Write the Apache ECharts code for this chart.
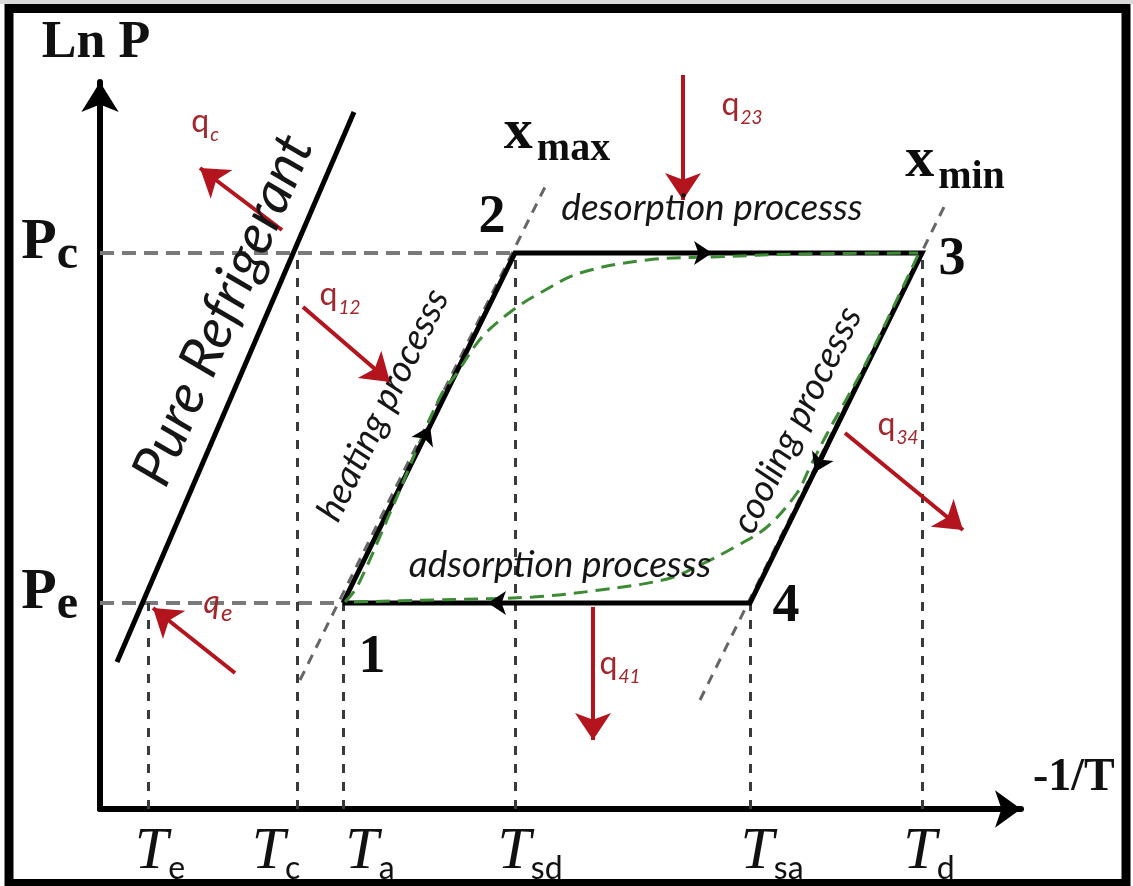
<!DOCTYPE html>
<html><head><meta charset="utf-8">
<script src="https://cdn.jsdelivr.net/npm/echarts@6/dist/echarts.min.js"></script>
<style>html,body{margin:0;padding:0;background:#fff}#chart{width:1133px;height:886px}</style>
</head><body><div id="chart"></div>
<script>
// ---- axis ticks (-1/T axis and Ln P axis, schematic units) ----
const tempNames  = ['e', 'c', 'a', 'sd', 'sa', 'd'];
const tempValues = [48, 197, 243, 415, 650, 822];
const tempGuideTo = ['e', 'c', 'e', 'c', 'e', 'c'];   // pressure level each vertical guide reaches
const presNames  = ['e', 'c'];
const presValues = [206, 556];

// ---- cycle states 1..4 : (temperature name, pressure name) ----
const stateNames = ['1', '2', '3', '4'];
const stateTemp  = ['a', 'sd', 'd', 'sa'];
const statePres  = ['e', 'c', 'c', 'e'];
const stateLabelX = [272, 392, 852, 686];
const stateLabelY = [151, 591, 549, 202];

// ---- pure refrigerant line ----
const refrigX = [17, 254];
const refrigY = [147, 697];

// ---- isosteres (x_max through 1-2, x_min through 4-3) ----
const isoMaxX = [200, 447];
const isoMaxY = [129, 626];
const isoMinX = [600, 845];
const isoMinY = [109, 604];

// ---- green (real) cycle curves ----
const greenUpX = [245, 257, 290, 340, 357, 382, 413, 440, 480, 547, 613, 700, 818];
const greenUpY = [207, 222, 296, 412, 436, 472, 499, 516, 536, 549, 552, 555, 556];
const greenLowX = [818, 765, 728, 710, 697, 667, 633, 600, 567, 500, 433, 333, 250];
const greenLowY = [554, 444, 377, 342, 316, 282, 261, 244, 230, 219, 212, 209, 207];

// ---- flow direction arrows on the cycle ----
const flowTailX = [317, 582, 728, 418];
const flowTailY = [356, 556, 364, 206];
const flowTipX  = [330, 612, 715, 388];
const flowTipY  = [383, 556, 337, 206];

// ---- heat flows ----
const heatNames = ['c', '12', '23', '34', '41', 'e'];
const heatFromX = [182, 203, 583, 745, 493, 135];
const heatFromY = [579, 502, 734, 376, 202, 136];
const heatToX   = [100, 290, 583, 863, 493, 53];
const heatToY   = [641, 427, 609, 279, 69, 201];
const heatLabelX = [105, 240, 642, 798, 520, 118];
const heatLabelY = [684, 511, 701, 381, 142, 203];

// ---- process labels ----
const procNames  = ['Pure Refrigerant', 'heating processs', 'desorption processs', 'cooling processs', 'adsorption processs'];
const procX      = [123, 283, 612, 697, 460];
const procY      = [499, 404, 601, 389, 244];
const procAngle  = [66.7, 63.8, 0, 63.6, 0];
const procSize   = [56, 37, 37, 37, 37];

// ---- isostere labels ----
const isoLabelNames = ['max', 'min'];
const isoLabelX = [457, 855];
const isoLabelY = [672, 644];

// horizontal nudges of the temperature tick labels (as placed in the figure)
const tempLabelShift = [12, -21, 27, 15, 22, 7];

// derived lookups
const T = {}; tempNames.forEach((n, i) => T[n] = tempValues[i]);
const P = {}; presNames.forEach((n, i) => P[n] = presValues[i]);
const stateX = stateTemp.map(n => T[n]);
const stateY = statePres.map(n => P[n]);

const seg = (x1, y1, x2, y2) => ({ coords: [[x1, y1], [x2, y2]] });

const hGuides = [seg(0, P.c, T.sd, P.c), seg(0, P.e, T.a, P.e)];
const vGuides = tempValues.map((v, i) => seg(v, 0, v, P[tempGuideTo[i]]));

const cycleData = stateX.map((x, i) => [x, stateY[i]]).concat([[stateX[0], stateY[0]]]);

const red = '#b3141d';
const redText = '#a3262c';
const serif = 'Liberation Serif';

// rich styles for each temperature tick label (per-label nudge via padding)
const tempRich = {};
tempNames.forEach((n, i) => {
  const s = tempLabelShift[i];
  tempRich['t' + i] = { fontFamily: serif, fontStyle: 'italic', fontSize: 60, color: '#111', verticalAlign: 'bottom',
    padding: [0, 0, 3, s > 0 ? 2 * s : 0] };
  tempRich['s' + i] = { fontFamily: 'Lato', fontSize: 32, color: '#111', verticalAlign: 'bottom',
    padding: [0, s < 0 ? -2 * s : 0, 0, 0] };
});

const annotations = [];
stateNames.forEach((n, i) => annotations.push({
  value: [stateLabelX[i], stateLabelY[i]],
  label: { formatter: n, fontFamily: serif, fontWeight: 'bold', fontSize: 54, color: '#0d0d0d' }
}));
heatNames.forEach((n, i) => annotations.push({
  value: [heatLabelX[i], heatLabelY[i]],
  label: {
    formatter: '{q|q}{s|' + n + '}',
    rich: {
      q: { fontFamily: 'Lato', fontSize: 32, color: redText, fontStyle: n === 'e' ? 'italic' : 'normal', verticalAlign: 'bottom', padding: [0, 1, 6, 0] },
      s: { fontFamily: 'Lato', fontSize: n === 'e' ? 24 : 19, color: redText, fontStyle: 'italic', verticalAlign: 'bottom' }
    }
  }
}));
procNames.forEach((n, i) => annotations.push({
  value: [procX[i], procY[i]],
  label: { formatter: n, fontFamily: 'Lato', fontStyle: 'italic', fontSize: procSize[i], color: '#161616', rotate: procAngle[i] }
}));
isoLabelNames.forEach((n, i) => annotations.push({
  value: [isoLabelX[i], isoLabelY[i]],
  label: {
    formatter: '{x|x}{s|' + n + '}',
    rich: {
      x: { fontFamily: serif, fontWeight: 'bold', fontSize: 58, color: '#0d0d0d', verticalAlign: 'bottom', padding: [0, 4, 8, 0] },
      s: { fontFamily: serif, fontWeight: 'bold', fontSize: 40, color: '#0d0d0d', verticalAlign: 'bottom' }
    }
  }
}));

const option = {
  animation: false,
  backgroundColor: '#fff',
  grid: { left: 100, right: 112, top: 82, bottom: 77, containLabel: false, outerBoundsMode: 'none' },
  xAxis: {
    type: 'value', min: 0, max: 921,
    name: '-1/T', nameLocation: 'end', nameGap: 12,
    nameTextStyle: { fontFamily: serif, fontWeight: 'bold', fontSize: 46, color: '#111', align: 'left', verticalAlign: 'bottom', padding: [0, 0, 8, 0] },
    axisLine: { show: true, symbol: ['none', 'arrow'], symbolSize: [28, 26], lineStyle: { color: '#000', width: 6 } },
    axisTick: { show: false },
    splitLine: { show: false },
    axisLabel: {
      customValues: tempValues,
      margin: 13,
      formatter: v => { const i = tempValues.indexOf(v); return '{t' + i + '|T}{s' + i + '|' + tempNames[i] + '}'; },
      rich: tempRich
    }
  },
  yAxis: {
    type: 'value', min: 0, max: 727,
    name: 'Ln P', nameLocation: 'end', nameGap: 12,
    nameTextStyle: { fontFamily: serif, fontWeight: 'bold', fontSize: 52, color: '#111', align: 'center', verticalAlign: 'bottom', padding: [0, 8, 0, 0] },
    axisLine: { show: true, symbol: ['none', 'arrow'], symbolSize: [28, 30], lineStyle: { color: '#000', width: 6 } },
    axisTick: { show: false },
    splitLine: { show: false },
    axisLabel: {
      customValues: presValues,
      margin: 22,
      padding: [0, 0, 12, 0],
      formatter: v => '{p|P}{s|' + presNames[presValues.indexOf(v)] + '}',
      rich: {
        p: { fontFamily: serif, fontWeight: 'bold', fontSize: 58, color: '#111', verticalAlign: 'bottom', padding: [0, 0, 8, 0] },
        s: { fontFamily: serif, fontWeight: 'bold', fontSize: 48, color: '#111', verticalAlign: 'bottom' }
      }
    }
  },
  series: [
    { type: 'lines', coordinateSystem: 'cartesian2d', clip: false, silent: true,
      lineStyle: { color: '#7a7a7a', width: 4, type: [14, 8], opacity: 1 }, data: hGuides, z: 1 },
    { type: 'lines', coordinateSystem: 'cartesian2d', clip: false, silent: true,
      lineStyle: { color: '#3a3a3a', width: 3, type: [9, 9], opacity: 1 }, data: vGuides, z: 1 },
    { type: 'lines', coordinateSystem: 'cartesian2d', clip: false, silent: true,
      lineStyle: { color: '#666', width: 3, type: [10, 8], opacity: 1 },
      data: [seg(isoMaxX[0], isoMaxY[0], isoMaxX[1], isoMaxY[1]), seg(isoMinX[0], isoMinY[0], isoMinX[1], isoMinY[1])], z: 1 },
    { type: 'line', clip: false, silent: true, showSymbol: false, symbol: 'none',
      lineStyle: { color: '#000', width: 5 }, data: refrigX.map((x, i) => [x, refrigY[i]]), z: 3 },
    { type: 'line', clip: false, silent: true, showSymbol: false, symbol: 'none',
      lineStyle: { color: '#000', width: 5, join: 'miter' }, data: cycleData, z: 3 },
    { type: 'line', clip: false, silent: true, showSymbol: false, symbol: 'none', smooth: 0.35,
      lineStyle: { color: '#3d8c35', width: 3, type: [14, 8] }, data: greenUpX.map((x, i) => [x, greenUpY[i]]), z: 4 },
    { type: 'line', clip: false, silent: true, showSymbol: false, symbol: 'none', smooth: 0.35,
      lineStyle: { color: '#3d8c35', width: 3, type: [14, 8] }, data: greenLowX.map((x, i) => [x, greenLowY[i]]), z: 4 },
    { type: 'lines', coordinateSystem: 'cartesian2d', clip: false, silent: true,
      symbol: ['none', 'arrow'], symbolSize: 18,
      lineStyle: { color: '#000', width: 4, opacity: 1 },
      data: flowTipX.map((x, i) => seg(flowTailX[i], flowTailY[i], x, flowTipY[i])), z: 5 },
    { type: 'lines', coordinateSystem: 'cartesian2d', clip: false, silent: true,
      symbol: ['none', 'arrow'], symbolSize: 27,
      lineStyle: { color: red, width: 4, opacity: 1 },
      data: heatToX.map((x, i) => seg(heatFromX[i], heatFromY[i], x, heatToY[i])), z: 6 },
    { type: 'scatter', clip: false, silent: true, symbolSize: 0, z: 7,
      itemStyle: { opacity: 1 },
      label: { show: true, position: 'inside', align: 'center', verticalAlign: 'middle', opacity: 1 },
      data: annotations }
  ],
  graphic: [
    { type: 'rect', z: 100, silent: true, shape: { x: 0, y: 0, width: 1133, height: 4 }, style: { fill: '#d9d9d9' } },
    { type: 'rect', z: 100, silent: true, shape: { x: 9, y: 8.5, width: 1117, height: 875 }, style: { fill: 'none', stroke: '#000', lineWidth: 9 } }
  ]
};
const chart = echarts.init(document.getElementById('chart'));
chart.setOption(option);
</script>
</body></html>
